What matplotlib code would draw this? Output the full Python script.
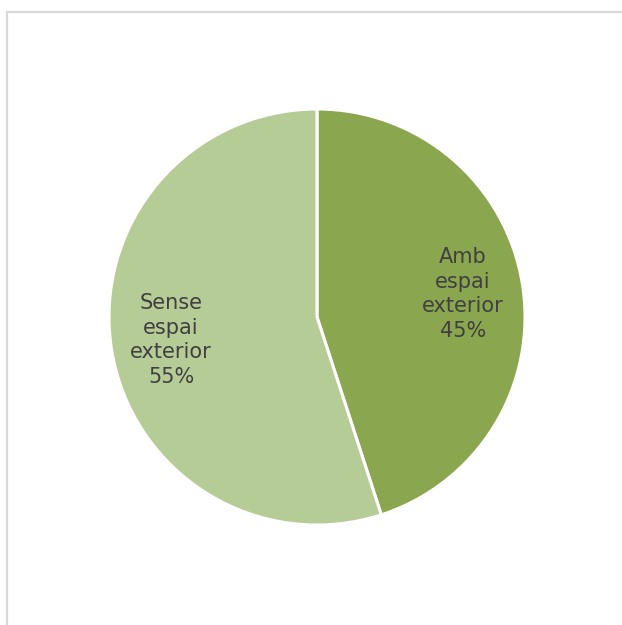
import matplotlib.pyplot as plt
from matplotlib.patches import Rectangle

# Pie data
categories = ["Amb\nespai\nexterior", "Sense\nespai\nexterior"]
shares = [45, 55]
colors = ["#8aa64e", "#b6cc96"]

W, H = 622, 625
fig = plt.figure(figsize=(W / 100, H / 100), dpi=100)

# light gray frame around the chart area (open at right and bottom)
frame = Rectangle((7 / W, -0.05), 1.2, (H - 12) / H + 0.05,
                  transform=fig.transFigure, fill=False,
                  edgecolor="#d9d9d9", linewidth=1.6)
fig.patches.append(frame)

cx, cy, r = 317, 317, 208
ax = fig.add_axes([(cx - r) / W, (H - cy - r) / H, 2 * r / W, 2 * r / H])


def label_for(pct):
    idx = 0 if abs(pct - shares[0] / sum(shares) * 100) < 1e-6 else 1
    return f"{categories[idx]}\n{shares[idx]}%"


wedges, texts, autotexts = ax.pie(
    shares, colors=colors, startangle=90, counterclock=False,
    autopct=label_for, pctdistance=0.71,
    wedgeprops=dict(edgecolor="white", linewidth=2.2),
    textprops=dict(color="#404040", fontsize=15, family="DejaVu Sans",
                   linespacing=1.28, ha="center", va="center"))

ax.set_xlim(-1, 1)
ax.set_ylim(-1, 1)
ax.set_aspect("auto")
ax.axis("off")

fig.savefig("out.png", dpi=100, facecolor="white")
